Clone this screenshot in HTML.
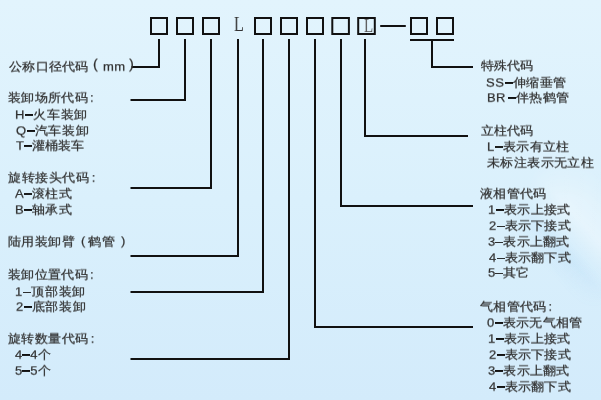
<!DOCTYPE html>
<html><head><meta charset="utf-8"><style>
html,body{margin:0;padding:0}
body{width:601px;height:400px;overflow:hidden;position:relative;
background:linear-gradient(180deg,#e2f4fd 0%,#daf0fc 50%,#d3ebfb 100%);
font-family:"Liberation Sans",sans-serif;color:#303030;}
svg{position:absolute;left:0;top:0}
.sw2{position:absolute;left:440px;top:80px;width:161px;height:280px;background:linear-gradient(47deg, rgba(90,170,230,0) 45%, rgba(90,170,230,0.09) 53%, rgba(255,255,255,0) 57%, rgba(255,255,255,0.35) 64%, rgba(255,255,255,0.1) 78%, rgba(255,255,255,0) 90%);-webkit-mask-image:radial-gradient(ellipse 70px 80px at 140px 150px, #000 40%, transparent 100%);mask-image:radial-gradient(ellipse 70px 80px at 140px 150px, #000 40%, transparent 100%)}
.t{position:absolute;white-space:nowrap;font-size:13px;line-height:13px;transform:scaleY(0.92);transform-origin:50% 50%;will-change:transform;-webkit-text-stroke:0.25px #303030}
.d{display:inline-block;width:8px;height:2px;background:#111;vertical-align:0.25em;margin:0}
.c{margin-left:2px}
.d.th{height:1px;background:#222}
.L{position:absolute;font-family:"Liberation Serif",serif;color:#333;font-size:20px;line-height:20px;transform:scaleX(0.8);transform-origin:0 0;will-change:transform}
</style></head><body>
<div class="sw2"></div>
<svg width="601" height="400" viewBox="0 0 601 400">
<g stroke="#111" stroke-width="2" fill="none" stroke-linecap="butt" stroke-linejoin="miter">
<path d="M131.5 67H159V39"/>
<path d="M130.5 100H185V39"/>
<path d="M130.5 188H211V39"/>
<path d="M130.5 256H238V39"/>
<path d="M130.5 292H263V39"/>
<path d="M130.5 359H289V39"/>
<path d="M473 327H315V39"/>
<path d="M473 206H341V39"/>
<path d="M468 136H365V39"/>
<path d="M473 67H432V40"/>
<path d="M410 40H454"/>
<rect x="151" y="18" width="16" height="16"/>
<rect x="177" y="18" width="16" height="16"/>
<rect x="203" y="18" width="16" height="16"/>
<rect x="255" y="18" width="16" height="16"/>
<rect x="281" y="18" width="16" height="16"/>
<rect x="307" y="18" width="16" height="16"/>
<rect x="332.3" y="18" width="16.6" height="16"/>
<rect x="358.2" y="18" width="16.6" height="16"/>
<rect x="411" y="18" width="16" height="16"/>
<rect x="437" y="18" width="16" height="16"/>
</g><line x1="380.2" y1="26" x2="405.8" y2="26" stroke="#111" stroke-width="2"/></svg>
<div class="L" id="L1" style="left:234px;top:13.5px">L</div>
<div class="L" id="L2" style="left:363.8px;top:15.8px;font-size:19px;line-height:19px;color:#555;transform:scaleX(0.78)">L</div>
<div class="t" id="l1" style="left:8.50px;top:59.60px;letter-spacing:0.251px">公称口径代码</div>
<div class="t" id="l1p1" style="left:93.30px;top:57.60px;letter-spacing:0.000px"><span style="font-size:14.5px">(</span></div>
<div class="t" id="l1m" style="left:102.54px;top:59.60px;letter-spacing:0.540px">mm</div>
<div class="t" id="l1p2" style="left:128.62px;top:57.60px;letter-spacing:0.000px"><span style="font-size:14.5px">)</span></div>
<div class="t" id="l2" style="left:7.70px;top:91.20px;letter-spacing:0.347px">装卸场所代码<span class="c">:</span></div>
<div class="t" id="l3" style="left:14.92px;top:107.80px;letter-spacing:0.764px">H<i class="d"></i>火车装卸</div>
<div class="t" id="l4" style="left:15.50px;top:123.50px;letter-spacing:0.612px">Q<i class="d"></i>汽车装卸</div>
<div class="t" id="l5" style="left:15.62px;top:139.20px;letter-spacing:0.084px">T<i class="d"></i>灌桶装车</div>
<div class="t" id="l6" style="left:7.54px;top:170.50px;letter-spacing:0.610px">旋转接头代码<span class="c">:</span></div>
<div class="t" id="l7" style="left:15.04px;top:187.00px;letter-spacing:0.305px">A<i class="d"></i>滚柱式</div>
<div class="t" id="l8" style="left:14.54px;top:202.50px;letter-spacing:0.380px">B<i class="d"></i>轴承式</div>
<div class="t" id="l9" style="left:8.14px;top:234.80px;letter-spacing:0.421px">陆用装卸臂</div>
<div class="t" id="l9p1" style="left:80.54px;top:233.80px;letter-spacing:0.000px">(</div>
<div class="t" id="l9m" style="left:88.38px;top:234.80px;letter-spacing:1.400px">鹤管</div>
<div class="t" id="l9p2" style="left:120.54px;top:233.80px;letter-spacing:0.000px">)</div>
<div class="t" id="l10" style="left:7.70px;top:267.80px;letter-spacing:0.347px">装卸位置代码<span class="c">:</span></div>
<div class="t" id="l11" style="left:15.00px;top:284.50px;letter-spacing:0.788px">1<i class="d th"></i>顶部装卸</div>
<div class="t" id="l12" style="left:15.50px;top:300.20px;letter-spacing:0.588px">2<i class="d"></i>底部装卸</div>
<div class="t" id="l13" style="left:7.50px;top:331.50px;letter-spacing:0.463px">旋转数量代码<span class="c">:</span></div>
<div class="t" id="l14" style="left:15.00px;top:348.00px;letter-spacing:0.093px">4<i class="d"></i>4个</div>
<div class="t" id="l15" style="left:14.70px;top:364.00px;letter-spacing:0.060px">5<i class="d"></i>5个</div>
<div class="t" id="r1" style="left:480.50px;top:58.80px;letter-spacing:-0.047px">特殊代码</div>
<div class="t" id="r2" style="left:486.42px;top:75.80px;letter-spacing:0.590px">SS<i class="d"></i>伸缩垂管</div>
<div class="t" id="r3" style="left:487.00px;top:91.30px;letter-spacing:0.417px">BR<i class="d" style="margin-left:2px"></i>伴热鹤管</div>
<div class="t" id="r4" style="left:480.50px;top:124.00px;letter-spacing:-0.047px">立柱代码</div>
<div class="t" id="r5" style="left:487.00px;top:140.00px;letter-spacing:0.423px">L<i class="d"></i>表示有立柱</div>
<div class="t" id="r6" style="left:487.24px;top:155.60px;letter-spacing:0.409px">未标注表示无立柱</div>
<div class="t" id="r7" style="left:480.00px;top:186.80px;letter-spacing:0.305px">液相管代码</div>
<div class="t" id="r8" style="left:487.50px;top:203.00px;letter-spacing:0.423px">1<i class="d"></i>表示上接式</div>
<div class="t" id="r9" style="left:488.50px;top:218.90px;letter-spacing:0.257px">2<i class="d th"></i>表示下接式</div>
<div class="t" id="r10" style="left:488.20px;top:234.60px;letter-spacing:0.190px">3<i class="d th"></i>表示上翻式</div>
<div class="t" id="r11" style="left:488.50px;top:250.60px;letter-spacing:0.257px">4<i class="d th"></i>表示翻下式</div>
<div class="t" id="r12" style="left:488.20px;top:266.40px;letter-spacing:0.113px">5<i class="d th"></i>其它</div>
<div class="t" id="r13" style="left:480.08px;top:299.50px;letter-spacing:0.272px">气相管代码<span class="c">:</span></div>
<div class="t" id="r14" style="left:486.66px;top:315.60px;letter-spacing:0.357px">0<i class="d"></i>表示无气相管</div>
<div class="t" id="r15" style="left:487.50px;top:331.70px;letter-spacing:0.423px">1<i class="d"></i>表示上接式</div>
<div class="t" id="r16" style="left:488.50px;top:347.70px;letter-spacing:0.257px">2<i class="d"></i>表示下接式</div>
<div class="t" id="r17" style="left:488.20px;top:364.00px;letter-spacing:0.190px">3<i class="d"></i>表示上翻式</div>
<div class="t" id="r18" style="left:488.50px;top:379.80px;letter-spacing:0.257px">4<i class="d"></i>表示翻下式</div>
</body></html>
